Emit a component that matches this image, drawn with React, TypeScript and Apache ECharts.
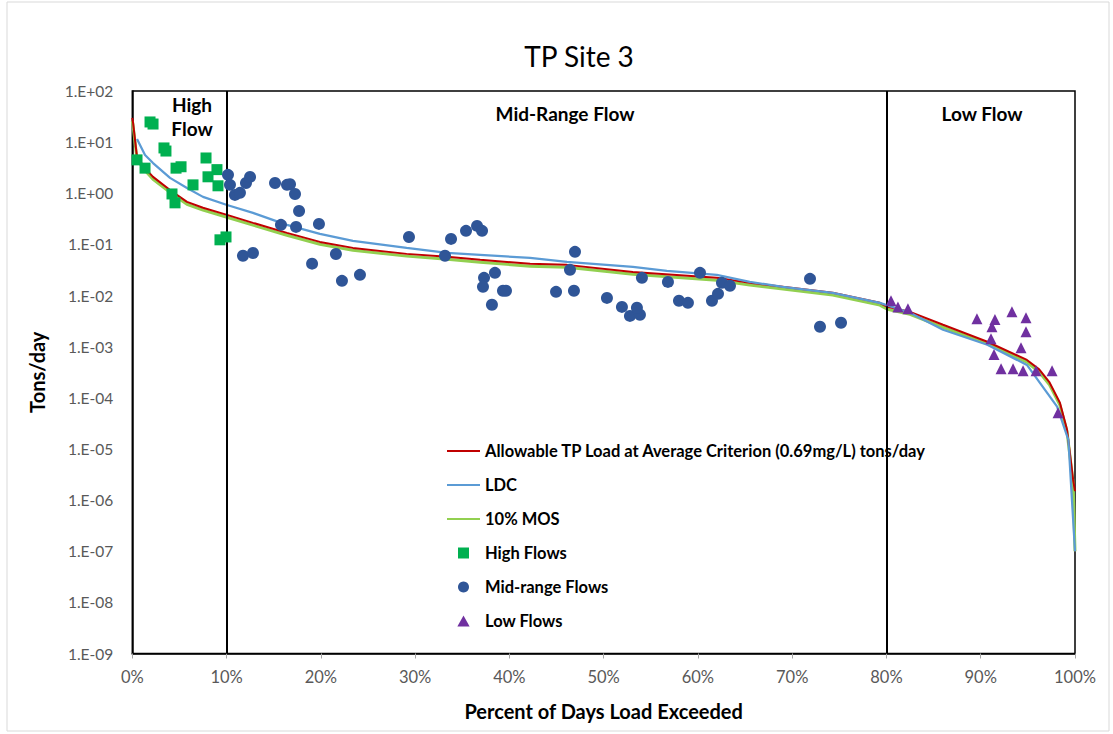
import React, { useEffect, useRef } from "react";
import * as echarts from "echarts";

// ---- Data (percent of days load exceeded, tons/day) ----
const allowPct = [0, 0.07, 0.5, 1.35, 2.2, 4.0, 5.8, 7.5, 10.05, 12.8, 16.4, 19.9, 23.4, 29.1, 33.4, 36.9, 42.2, 46.1, 53.1, 62.0, 65.5, 74.3, 79.3, 80.1, 82.5, 86.0, 90.7, 94.9, 96.2, 97.3, 98.4, 99.15, 99.8, 100];
const allowLoad = [29.7, 24.8, 5.1, 3.1, 2.09, 1.16, 0.68, 0.52, 0.378, 0.264, 0.168, 0.112, 0.0855, 0.0653, 0.0571, 0.0499, 0.0417, 0.0398, 0.029, 0.0222, 0.0177, 0.0113, 0.0072, 0.006, 0.0048, 0.00268, 0.00125, 0.00055, 0.00036, 0.0002, 0.00008, 0.000024, 0.0000025, 0.0000015];

const mosPct = [0, 0.07, 0.5, 1.35, 2.2, 4.0, 5.8, 7.5, 10.05, 12.8, 16.4, 19.9, 23.4, 29.1, 33.4, 36.9, 42.2, 46.1, 53.1, 62.0, 65.5, 74.3, 79.3, 80.1, 82.5, 86.0, 90.7, 94.9, 96.2, 97.3, 98.4, 99.15, 99.8, 100];
const mosLoad = [26, 22, 4.6, 2.8, 1.88, 1.04, 0.61, 0.47, 0.34, 0.238, 0.151, 0.101, 0.077, 0.059, 0.051, 0.045, 0.0375, 0.0358, 0.026, 0.02, 0.016, 0.0102, 0.0065, 0.0054, 0.0043, 0.0024, 0.00113, 0.0005, 0.00032, 0.00018, 0.000072, 0.000022, 0.0000022, 0.0000001];

const ldcPct = [0.5, 1.35, 2.2, 4.0, 5.8, 7.5, 10.05, 12.8, 16.4, 19.9, 23.4, 29.1, 33.4, 36.9, 42.2, 46.1, 53.1, 56.7, 62.0, 65.5, 69.0, 74.3, 79.3, 82.5, 86.0, 90.7, 94.9, 98.1, 99.3, 100];
const ldcLoad = [11.5, 5.6, 3.9, 2.0, 1.27, 0.85, 0.59, 0.413, 0.241, 0.161, 0.117, 0.0855, 0.0684, 0.0625, 0.0546, 0.0456, 0.0364, 0.0304, 0.0254, 0.0185, 0.0148, 0.0113, 0.0072, 0.0046, 0.00214, 0.00109, 0.00044, 0.000067, 0.000015, 0.0000001];

const highPct = [1.88, 2.2, 3.36, 3.57, 0.5, 1.35, 4.64, 5.17, 7.82, 8.98, 8.03, 9.09, 6.44, 4.21, 4.53, 9.3, 9.94];
const highLoad = [24.8, 22.6, 7.7, 6.7, 4.5, 3.1, 3.1, 3.3, 4.9, 2.9, 2.1, 1.4, 1.46, 0.97, 0.65, 0.123, 0.14];

const midPct = [10.15, 10.36, 10.89, 11.42, 12.06, 12.49, 11.74, 12.8, 15.14, 15.77, 16.41, 16.73, 17.26, 17.37, 17.69, 19.07, 19.8, 21.6, 22.24, 24.15, 29.35, 33.17, 33.81, 35.4, 36.57, 37.1, 37.31, 37.2, 38.47, 38.15, 39.32, 39.64, 44.95, 46.43, 46.85, 46.96, 50.35, 51.94, 52.79, 53.85, 53.53, 54.06, 56.82, 57.99, 58.94, 60.22, 61.49, 62.13, 62.55, 63.4, 71.89, 72.95, 75.18];
const midLoad = [2.29, 1.46, 0.93, 1.02, 1.59, 2.09, 0.06, 0.068, 1.59, 0.241, 1.46, 1.5, 0.97, 0.22, 0.45, 0.042, 0.252, 0.065, 0.0194, 0.0254, 0.14, 0.06, 0.128, 0.184, 0.23, 0.184, 0.0222, 0.0148, 0.0278, 0.0066, 0.0124, 0.0124, 0.0118, 0.0318, 0.0124, 0.0715, 0.009, 0.006, 0.004, 0.0042, 0.0058, 0.0222, 0.0185, 0.0079, 0.0072, 0.0278, 0.0079, 0.0108, 0.0177, 0.0155, 0.0212, 0.00245, 0.00293];

const lowPct = [80.48, 81.22, 82.28, 89.6, 91.51, 91.19, 93.31, 94.8, 94.8, 91.09, 94.27, 91.41, 92.16, 93.43, 94.49, 95.87, 97.57, 98.2];
const lowLoad = [0.0079, 0.006, 0.0055, 0.0035, 0.0034, 0.00245, 0.0048, 0.0037, 0.00195, 0.00143, 0.00095, 0.0007, 0.00037, 0.00037, 0.00034, 0.00034, 0.00034, 0.000051];

const xTicks = [0, 10, 20, 30, 40, 50, 60, 70, 80, 90, 100];
const flowBreaks = [10, 80];

const zip = (a: number[], b: number[]) => a.map((v, i) => [v, b[i]]);

const FONT = "Lato, 'Open Sans', sans-serif";
const LEGEND_LINE = { itemStyle: { opacity: 0 } };

export default function App() {
  const ref = useRef<HTMLDivElement>(null);
  useEffect(() => {
    if (!ref.current) return;
    const chart = echarts.init(ref.current, undefined, { renderer: "svg" });
    const fmtY = (v: number) => {
      const e = Math.round(Math.log10(v));
      const s = e < 0 ? "-" : "+";
      const a = Math.abs(e);
      return "1.E" + s + (a < 10 ? "0" + a : "" + a);
    };
    const regionText = (x: number, y: number, text: string) => ({
      type: "text",
      x,
      y,
      style: { text, fontFamily: FONT, fontSize: 19, fontWeight: "bold", fill: "#000", textAlign: "center", textVerticalAlign: "middle" },
    });
    chart.setOption({
      animation: false,
      backgroundColor: "#fff",
      textStyle: { fontFamily: FONT },
      title: {
        text: "TP Site 3",
        left: 574,
        top: 37,
        textAlign: "center",
        textStyle: { fontFamily: FONT, fontSize: 28, fontWeight: "normal", color: "#000" },
      },
      grid: {
        left: 132.3,
        right: 38,
        top: 91,
        bottom: 80.5,
        show: true,
        borderColor: "#000",
        borderWidth: 1.5,
        backgroundColor: "transparent",
      },
      legend: {
        orient: "vertical",
        left: 446,
        top: 441,
        padding: 0,
        itemWidth: 33,
        itemHeight: 11,
        itemGap: 14,
        textStyle: { fontFamily: FONT, fontSize: 16.5, fontWeight: "bold", color: "#000", lineHeight: 20 },
        data: [
          { name: "Allowable TP Load at Average Criterion (0.69mg/L) tons/day", ...LEGEND_LINE },
          { name: "LDC", ...LEGEND_LINE },
          { name: "10% MOS", ...LEGEND_LINE },
          { name: "High Flows", icon: "path://M0,0H10V10H0Z" },
          { name: "Mid-range Flows", icon: "circle" },
          { name: "Low Flows", icon: "path://M5,0L10,9L0,9Z" },
        ],
      },
      xAxis: {
        type: "value",
        min: xTicks[0],
        max: xTicks[xTicks.length - 1],
        interval: 10,
        name: "Percent of Days Load Exceeded",
        nameLocation: "middle",
        nameGap: 47,
        nameTextStyle: { fontFamily: FONT, fontSize: 20, fontWeight: "bold", color: "#000" },
        axisLine: { show: true, lineStyle: { color: "#000", width: 1.5 } },
        axisTick: { show: true, length: 5, lineStyle: { color: "#a6a6a6" } },
        axisLabel: { formatter: "{value}%", fontSize: 16.5, color: "#595959", margin: 15, fontFamily: FONT },
        splitLine: { show: false },
      },
      yAxis: {
        type: "log",
        logBase: 10,
        min: 1e-9,
        max: 100,
        interval: 1,
        name: "Tons/day",
        nameLocation: "middle",
        nameGap: 85,
        nameRotate: 90,
        nameTextStyle: { fontFamily: FONT, fontSize: 20, fontWeight: "bold", color: "#000" },
        axisLine: { show: true, lineStyle: { color: "#000", width: 1.5 } },
        axisTick: { show: false },
        axisLabel: { formatter: fmtY, fontSize: 15.5, color: "#595959", margin: 19, fontFamily: FONT },
        splitLine: { show: false },
        minorSplitLine: { show: false },
      },
      graphic: [
        { type: "rect", shape: { x: 7, y: 2, width: 1102, height: 729 }, style: { fill: "none", stroke: "#d9d9d9", lineWidth: 1 }, silent: true, z: -1 },
        regionText(192, 104, "High"),
        regionText(192, 128, "Flow"),
        regionText(565, 113, "Mid-Range Flow"),
        regionText(982, 113, "Low Flow"),
      ],
      series: [
        {
          name: "10% MOS",
          type: "line",
          data: zip(mosPct, mosLoad),
          symbol: "none",
          lineStyle: { color: "#92D050", width: 3 },
          itemStyle: { color: "#92D050" },
          z: 2,
          markLine: {
            silent: true,
            symbol: "none",
            label: { show: false },
            lineStyle: { color: "#000", width: 2, type: "solid" },
            data: flowBreaks.map((v) => ({ xAxis: v })),
          },
        },
        {
          name: "Allowable TP Load at Average Criterion (0.69mg/L) tons/day",
          type: "line",
          data: zip(allowPct, allowLoad),
          symbol: "none",
          lineStyle: { color: "#C00000", width: 2 },
          itemStyle: { color: "#C00000" },
          z: 3,
        },
        {
          name: "LDC",
          type: "line",
          data: zip(ldcPct, ldcLoad),
          symbol: "none",
          lineStyle: { color: "#5B9BD5", width: 2.25 },
          itemStyle: { color: "#5B9BD5" },
          z: 4,
        },
        {
          name: "High Flows",
          type: "scatter",
          data: zip(highPct, highLoad),
          symbol: "rect",
          symbolSize: 11,
          itemStyle: { color: "#00B050", opacity: 1 },
          z: 5,
        },
        {
          name: "Mid-range Flows",
          type: "scatter",
          data: zip(midPct, midLoad),
          symbol: "circle",
          symbolSize: 12,
          itemStyle: { color: "#2F5597", opacity: 1 },
          z: 5,
        },
        {
          name: "Low Flows",
          type: "scatter",
          data: zip(lowPct, lowLoad),
          symbol: "triangle",
          symbolSize: 11,
          itemStyle: { color: "#7030A0", opacity: 1 },
          z: 5,
        },
      ],
    });
    return () => chart.dispose();
  }, []);
  return <div ref={ref} style={{ position: "absolute", left: 0, top: 0, width: 1113, height: 734 }} />;
}
